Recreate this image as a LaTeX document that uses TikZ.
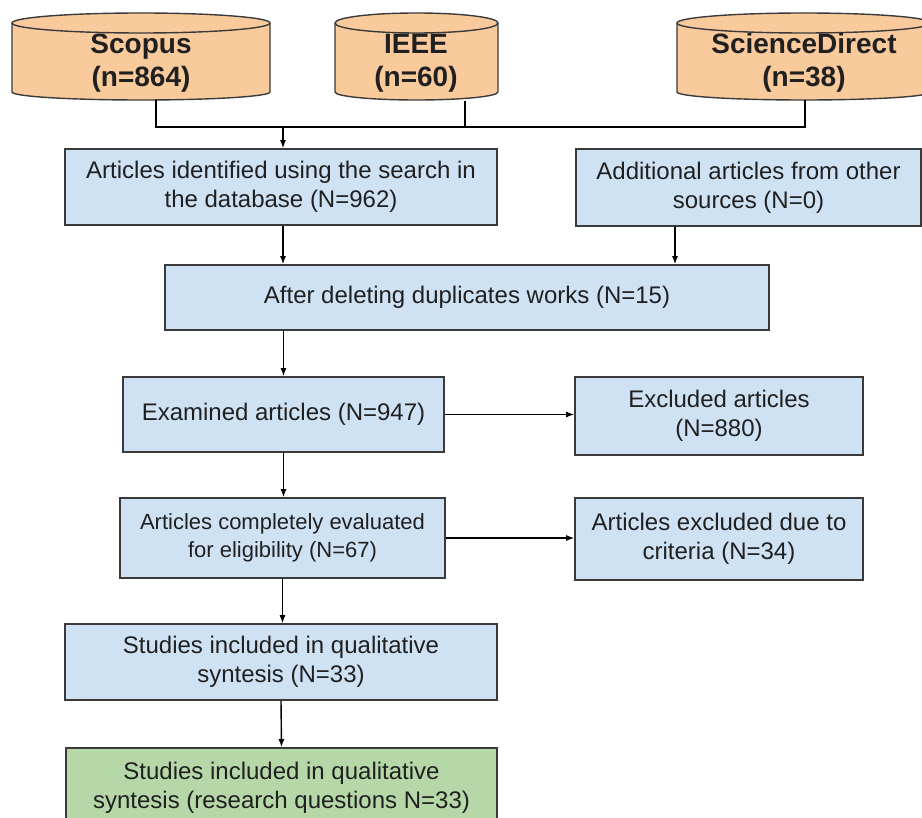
\documentclass[tikz,border=0pt]{standalone}
\usepackage{fontspec}
\setmainfont{Liberation Sans}
\usetikzlibrary{arrows.meta,calc}
\definecolor{boxblue}{HTML}{CFE2F3}
\definecolor{cylorange}{HTML}{F9CB9C}
\definecolor{boxgreen}{HTML}{B6D7A8}
\definecolor{edgegray}{HTML}{3A3A3A}
\definecolor{txt}{HTML}{202020}
\tikzset{
  flowbox/.style={draw=edgegray, line width=1.6pt, fill=boxblue, align=center,
    text=txt, inner sep=0pt, font=\fontsize{24}{29}\selectfont},
  greenbox/.style={flowbox, fill=boxgreen},
  cylshape/.style={draw=edgegray, line width=1.4pt, fill=cylorange},
  cyltext/.style={align=center, text=txt, font=\fontsize{28}{33}\selectfont\bfseries},
  arr/.style={draw=black, line width=1.4pt, -{Latex[length=8pt,width=6pt]}},
  conn/.style={draw=black, line width=1.4pt}
}
\begin{document}
\begin{tikzpicture}[x=1pt,y=1pt]
\useasboundingbox (0,0) rectangle (922,-818);
% cylinders
\path[cylshape] (12,-23) -- (12,-92) arc[start angle=180,end angle=360,x radius=129,y radius=8]
  -- (270,-23) arc[start angle=0,end angle=180,x radius=129,y radius=10] -- cycle;
\draw[cylshape,fill=none] (12,-23) arc[start angle=180,end angle=360,x radius=129,y radius=10];
\path[cylshape] (335,-23) -- (335,-92) arc[start angle=180,end angle=360,x radius=81.5,y radius=8]
  -- (498,-23) arc[start angle=0,end angle=180,x radius=81.5,y radius=10] -- cycle;
\draw[cylshape,fill=none] (335,-23) arc[start angle=180,end angle=360,x radius=81.5,y radius=10];
\path[cylshape] (677,-23) -- (677,-92) arc[start angle=180,end angle=360,x radius=127,y radius=8]
  -- (931,-23) arc[start angle=0,end angle=180,x radius=127,y radius=10] -- cycle;
\draw[cylshape,fill=none] (677,-23) arc[start angle=180,end angle=360,x radius=127,y radius=10];
\node[cyltext] (scopus) at (141,-63) {Scopus\\(n=864)};
\node[cyltext] (ieee) at (416,-63) {IEEE\\(n=60)};
\node[cyltext] (sd) at (804,-63) {ScienceDirect\\(n=38)};
\coordinate (scopusb) at (156,-100);
\coordinate (ieeeb) at (465,-101);
\coordinate (sdb) at (805,-100);
\coordinate (bus) at (0,-127);
% boxes
\node[flowbox, minimum width=432pt, minimum height=76pt] (b1) at (281,-187) {Articles identified using the search in\\the database (N=962)};
\node[flowbox, minimum width=345pt, minimum height=77pt] (b2) at (748.5,-187.5) {Additional articles from other\\sources (N=0)};
\node[flowbox, minimum width=604pt, minimum height=65pt] (b3) at (467,-297.5) {After deleting duplicates works (N=15)};
\node[flowbox, minimum width=321pt, minimum height=75pt] (b4) at (283.5,-414.5) {Examined articles (N=947)};
\node[flowbox, minimum width=288pt, minimum height=78pt] (b5) at (719,-416) {Excluded articles\\(N=880)};
\node[flowbox, minimum width=325pt, minimum height=80pt, font=\fontsize{22}{28}\selectfont] (b6) at (282.5,-538) {Articles completely evaluated\\for eligibility (N=67)};
\node[flowbox, minimum width=288pt, minimum height=82pt] (b7) at (719,-539) {Articles excluded due to\\criteria (N=34)};
\node[flowbox, minimum width=432pt, minimum height=76pt] (b8) at (281,-662) {Studies included in qualitative\\syntesis (N=33)};
\node[greenbox, minimum width=431pt, minimum height=80pt] (b9) at (281.5,-788) {Studies included in qualitative\\syntesis (research questions N=33)};
% connectors
\draw[conn] (scopusb) -- (scopusb |- bus) -- (sdb |- bus) -- (sdb);
\draw[conn] (ieeeb) -- (ieeeb |- bus);
\draw[arr] ([xshift=2pt]b1.north |- bus) -- ([xshift=2pt]b1.north);
\draw[arr] ([xshift=2pt]b1.south) -- ([xshift=2pt]b1.south |- b3.north);
\draw[arr] ([xshift=-73.5pt]b2.south) -- ([xshift=-73.5pt]b2.south |- b3.north);
\draw[arr] (b4.north |- b3.south) -- (b4.north);
\draw[arr] (b4.east) -- (b5.west |- b4.east);
\draw[arr] (b4.south) -- (b4.south |- b6.north);
\draw[arr] (b6.east) -- (b7.west |- b6.east);
\draw[arr] (b6.south) -- (b6.south |- b8.north);
\draw[arr] (b8.south) -- (b9.north);
\end{tikzpicture}
\end{document}
